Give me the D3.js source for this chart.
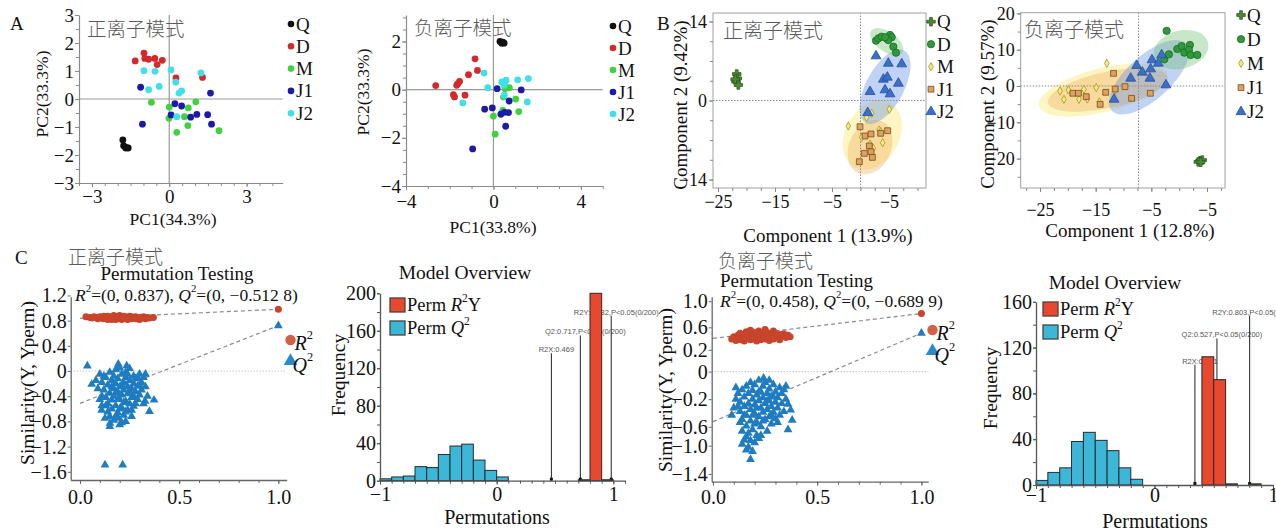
<!DOCTYPE html>
<html>
<head>
<meta charset="utf-8">
<script src="https://cdn.jsdelivr.net/npm/d3@7"></script>
<style>
  body { margin: 0; background: #fff; }
  svg { display: block; }
</style>
</head>
<body>
<div id="chart"></div>
<script>
// ---------- data ----------
const groups = ["Q", "D", "M", "J1", "J2"];

// A: PCA, positive mode
const pcaPosQ = [[-1.80,-1.46],[-1.77,-1.67],[-1.69,-1.75],[-1.59,-1.75],[-1.67,-1.73]];
const pcaPosD = [[-1.32,1.36],[-0.98,1.64],[-0.95,1.45],[-0.80,1.42],[-0.56,1.45],[-0.47,1.23],[-0.27,1.38],[0.26,0.75],[1.29,0.77]];
const pcaPosM = [[-0.69,-0.12],[0.0,-0.29],[-0.01,-0.69],[0.29,-1.19],[0.59,-0.63],[0.74,-0.32],[0.72,-0.95],[1.03,-0.10],[1.93,-1.13]];
const pcaPosJ1 = [[-1.11,0.42],[-1.04,-0.90],[0.22,-0.17],[0.07,-0.57],[0.48,-0.25],[0.83,-0.65],[1.07,-0.55],[1.49,-0.56],[1.60,0.21],[1.64,-0.90]];
const pcaPosJ2 = [[-0.98,1.01],[-0.55,0.99],[-0.80,0.33],[-0.39,0.45],[0.07,1.04],[0.25,0.60],[0.38,0.21],[0.48,0.29],[0.29,-0.63],[1.23,0.93]];
// A: PCA, negative mode
const pcaNegQ = [[0.30,2.0],[0.43,1.97],[0.38,1.93],[0.49,1.93]];
const pcaNegD = [[-2.64,0.17],[-1.68,0.18],[-1.55,0.34],[-1.63,0.25],[-1.83,-0.21],[-1.78,-0.30],[-1.30,-0.23],[-1.14,0.62],[-0.84,1.28],[-0.73,0.80]];
const pcaNegM = [[0,-1.10],[0.08,-1.85],[0.46,-0.30],[0.73,0.08],[1.02,-0.39],[1.16,-0.91],[0.43,-0.86],[0.53,0.04],[0.50,0.25]];
const pcaNegJ1 = [[-0.95,-2.46],[-0.40,-0.81],[-0.05,-0.76],[0.17,0.04],[0.34,-1.02],[0.50,-0.94],[0.69,-0.95],[0.56,-1.52],[0.72,-0.47],[1.27,-0.01]];
const pcaNegJ2 = [[-0.43,0.69],[-1.40,-0.55],[-0.26,0.08],[0.49,0.18],[0.58,0.39],[1.11,0.41],[1.60,0.46],[1.55,-0.51],[0.50,-0.23],[0.38,0.32]];

// B: PLS-DA, positive mode
const plsPosQ = [[-21.72,4.69],[-21.6,3.93],[-21.84,3.33],[-21.43,2.75],[-22.0,3.75]];
const plsPosD = [[2.72,10.6],[3.13,11.0],[3.71,11.3],[4.59,11.0],[5.18,11.6],[5.47,11.2],[4.88,10.7],[5.77,9.53],[6.23,8.47],[4.30,11.2]];
const plsPosM = [[1.96,-2.27],[1.08,-2.98],[5.06,-1.56],[-2.14,-4.52],[0.20,-6.52],[3.30,-5.23],[3.89,-7.47],[2.25,-8.47],[1.67,-7.71],[3.54,-5.53]];
const plsPosJ1 = [[-0.09,-4.64],[0.79,-6.29],[1.84,-5.93],[3.54,-5.81],[4.77,-5.35],[1.55,-8.06],[1.84,-9.07],[0.67,-9.36],[2.08,-10.07],[-0.21,-10.84]];
const plsPosJ2 = [[2.72,7.88],[4.88,6.58],[7.23,6.47],[4.01,3.75],[4.71,4.11],[6.64,3.04],[1.67,1.56],[4.30,1.86],[5.18,1.15],[1.26,-2.16]];
// confidence ellipses: [group, cx, cy, rx (x units), ry (y units), rotation deg]
const plsPosEllipses = [["M",2.07,-6.11,4.74,6.55,30],["J1",1.67,-8.29,3.68,5.05,25],["J2",4.30,2.44,3.33,7.26,28],["D",4.59,10.42,3.33,1.77,35]];

// B: PLS-DA, negative mode
const plsNegQ = [[3.73,-20.6],[4.14,-20.4],[3.43,-20.9],[3.85,-21.0]];
const plsNegD = [[-2.25,15.2],[-2.68,7.34],[-1.84,8.72],[-0.34,10.2],[0.44,11.0],[0.91,9.19],[1.93,11.3],[1.75,9.92],[2.05,8.54],[3.25,8.54]];
const plsNegM = [[-13.0,6.24],[-14.9,-0.46],[-17.1,-0.92],[-19.9,-1.1],[-21.4,-1.38],[-20.7,-3.67],[-18.0,-3.67],[-16.5,-3.58],[-14.35,-4.41],[-11.5,-1.1]];
const plsNegJ1 = [[-19.1,-2.0],[-18.1,-2.0],[-16.7,-2.94],[-14.2,-5.05],[-13.2,-1.74],[-11.8,3.49],[-11.5,-0.83],[-9.74,-0.18],[-8.54,-3.4],[-5.19,-2.0]];
const plsNegJ2 = [[-7.64,5.6],[-6.63,3.77],[-4.89,7.16],[-5.13,4.68],[-5.25,2.11],[-8.72,2.11],[-11.7,-3.67],[-3.15,8.54],[-3.75,6.24],[-2.38,0.28]];
const plsNegEllipses = [["M",-13.63,-1.10,11.86,6.06,-14],["J1",-12.84,-1.10,10.96,4.96,-12],["J2",-5.42,2.39,8.98,6.06,-42],["D",0.33,10.0,5.03,5.23,-15]];

// axis ticks
const pcaPosXTicks = [-3, 0, 3];
const pcaPosYTicks = [-3, -2, -1, 0, 1, 2, 3];
const pcaNegXTicks = [-4, 0, 4];
const pcaNegYTicks = [-4, -2, 0, 2];
const plsXTicks = [-25, -15, -5, 5];
const plsXLabels = ["−25", "−15", "−5", "−5"];
const plsPosYTicks = [-14, 0, 14];
const plsNegYTicks = [-20, -10, 0, 10, 20];

// C: permutation tests (x = correlation of Y with permuted Y)
const permPosR2 = [[0.03,0.86],[0.05,0.85],[0.06,0.84],[0.07,0.86],[0.08,0.85],[0.09,0.83],[0.10,0.86],[0.11,0.84],[0.12,0.87],[0.12,0.83],[0.13,0.85],[0.14,0.82],[0.14,0.87],[0.15,0.84],[0.16,0.86],[0.16,0.82],[0.17,0.88],[0.17,0.84],[0.18,0.85],[0.18,0.82],[0.19,0.87],[0.19,0.83],[0.20,0.85],[0.20,0.88],[0.21,0.82],[0.21,0.86],[0.22,0.84],[0.22,0.87],[0.23,0.83],[0.23,0.86],[0.24,0.85],[0.24,0.82],[0.25,0.87],[0.25,0.84],[0.26,0.86],[0.26,0.83],[0.27,0.85],[0.28,0.83],[0.28,0.86],[0.29,0.84],[0.30,0.85],[0.30,0.82],[0.31,0.84],[0.32,0.86],[0.33,0.83],[0.34,0.85],[0.35,0.84],[0.37,0.85],[1.0,0.98]];
const permPosQ2 = [[0.037,0.08],[0.059,-0.21],[0.193,0.11],[0.235,0.08],[0.328,-0.48],[0.373,-0.46],[0.35,-0.64],[0.109,-0.62],[0.126,-0.75],[0.151,-0.83],[0.21,-0.82],[0.193,-0.75],[0.126,-1.49],[0.215,-1.49],
  [0.10,-0.05],[0.11,-0.18],[0.12,-0.30],[0.13,-0.10],[0.13,-0.42],[0.14,-0.22],[0.14,-0.52],[0.15,-0.02],[0.15,-0.35],[0.16,-0.15],[0.16,-0.46],[0.16,-0.60],[0.17,-0.08],[0.17,-0.28],[0.17,-0.40],[0.18,-0.20],[0.18,-0.55],[0.18,0.02],[0.19,-0.33],[0.19,-0.12],[0.19,-0.66],[0.20,-0.25],[0.20,-0.45],[0.20,0.05],[0.21,-0.05],[0.21,-0.38],[0.21,-0.58],[0.22,-0.18],[0.22,-0.30],[0.22,-0.70],[0.23,-0.10],[0.23,-0.48],[0.23,-0.02],[0.24,-0.25],[0.24,-0.36],[0.24,-0.62],[0.25,-0.15],[0.25,-0.52],[0.25,0.04],[0.26,-0.28],[0.26,-0.42],[0.27,-0.08],[0.27,-0.20],[0.27,-0.56],[0.28,-0.33],[0.28,-0.12],[0.29,-0.45],[0.29,-0.24],[0.30,-0.05],[0.30,-0.38],[0.31,-0.18],[0.31,-0.30],[0.32,-0.10],[0.33,-0.25],[0.34,-0.40],[0.11,-0.40],[0.12,-0.08],[0.13,-0.55],[0.14,-0.65],[0.15,-0.72],[0.16,-0.25],[0.17,-0.78],[0.18,-0.35],[0.19,-0.45],[0.20,-0.60],[0.21,-0.22],[0.22,-0.50],[0.23,-0.65],[0.24,-0.05],[0.25,-0.32],[0.26,-0.62],[0.27,-0.40],[0.28,-0.52],[0.29,-0.10],[0.30,-0.22],[0.09,-0.28],[0.10,-0.45],[0.08,-0.15],[0.11,-0.55],[0.20,-0.85],[0.18,-0.72],[0.23,-0.80],[0.26,-0.72],[0.32,-0.52],[0.33,-0.05],[0.15,-0.88],[1.0,0.72]];
const permPosLines = {R2: [[0, 0.837], [1, 0.98]], Q2: [[0, -0.5128], [1, 0.72]]};
const permPosYTicks = [1.2, 0.8, 0.4, 0, -0.4, -0.8, -1.2, -1.6];
const permPosYLabels = ["1.2", "0.8", "0.4", "0", "−0.4", "−0.8", "−1.2", "−1.6"];

const permNegR2 = [[0.09,0.45],[0.10,0.48],[0.11,0.43],[0.12,0.50],[0.12,0.46],[0.13,0.53],[0.13,0.44],[0.14,0.48],[0.15,0.51],[0.15,0.42],[0.16,0.55],[0.16,0.46],[0.17,0.49],[0.17,0.52],[0.18,0.44],[0.18,0.57],[0.19,0.48],[0.19,0.51],[0.20,0.45],[0.20,0.54],[0.21,0.49],[0.21,0.42],[0.22,0.56],[0.22,0.47],[0.23,0.51],[0.23,0.44],[0.24,0.53],[0.24,0.48],[0.25,0.58],[0.25,0.45],[0.26,0.50],[0.26,0.54],[0.27,0.47],[0.27,0.43],[0.28,0.52],[0.28,0.49],[0.29,0.56],[0.29,0.45],[0.30,0.50],[0.30,0.53],[0.31,0.47],[0.32,0.51],[0.32,0.44],[0.33,0.49],[0.34,0.52],[0.35,0.47],[0.36,0.50],[0.37,0.48],[1.0,0.80]];
const permNegQ2 = [[0.243,-0.09],[0.11,-0.22],[0.09,-0.60],[0.373,-0.53],[0.38,-0.67],[0.36,-0.80],[0.18,-1.21],[0.14,-1.00],[0.17,-1.04],[0.20,-0.98],[0.15,-0.94],[0.22,-0.92],
  [0.12,-0.30],[0.13,-0.42],[0.13,-0.55],[0.14,-0.25],[0.14,-0.66],[0.15,-0.35],[0.15,-0.48],[0.16,-0.20],[0.16,-0.60],[0.16,-0.75],[0.17,-0.30],[0.17,-0.44],[0.17,-0.85],[0.18,-0.15],[0.18,-0.52],[0.18,-0.68],[0.19,-0.38],[0.19,-0.26],[0.19,-0.80],[0.20,-0.46],[0.20,-0.58],[0.20,-0.18],[0.21,-0.32],[0.21,-0.70],[0.21,-0.88],[0.22,-0.40],[0.22,-0.12],[0.22,-0.62],[0.23,-0.28],[0.23,-0.50],[0.23,-0.76],[0.24,-0.36],[0.24,-0.20],[0.24,-0.56],[0.25,-0.44],[0.25,-0.66],[0.25,-0.15],[0.26,-0.30],[0.26,-0.52],[0.26,-0.82],[0.27,-0.24],[0.27,-0.40],[0.27,-0.62],[0.28,-0.34],[0.28,-0.48],[0.28,-0.72],[0.29,-0.18],[0.29,-0.56],[0.30,-0.28],[0.30,-0.42],[0.30,-0.65],[0.31,-0.36],[0.31,-0.50],[0.32,-0.22],[0.32,-0.60],[0.33,-0.44],[0.33,-0.30],[0.34,-0.55],[0.35,-0.38],[0.35,-0.20],[0.13,-0.70],[0.14,-0.82],[0.15,-0.60],[0.16,-0.90],[0.18,-0.95],[0.19,-0.60],[0.20,-0.72],[0.21,-0.50],[0.22,-0.28],[0.23,-0.88],[0.24,-0.68],[0.26,-0.40],[0.27,-0.12],[0.28,-0.60],[0.29,-0.35],[0.31,-0.70],[0.12,-0.48],[0.11,-0.38],[0.10,-0.50],[0.34,-0.25],[0.36,-0.45],[0.19,-1.10],[0.16,-1.08],[1.0,0.53]];
const permNegLines = {R2: [[0, 0.458], [1, 0.80]], Q2: [[0, -0.6899], [1, 0.53]]};
// printed tick labels sit at these positions on the plot
const permNegYTicks = [0.97, 0.61, 0.30, 0, -0.38, -0.76, -1.02, -1.41];
const permNegYLabels = ["1.0", "0.6", "0.2", "0", "−0.2", "−0.6", "−1.0", "−1.4"];
const permXTicks = [0, 0.5, 1];
const permXLabels = ["0.0", "0.5", "1.0"];

// C: model overview histograms (bins of 0.1)
const histPosQ2 = [2, 4, 5, 15, 14, 28, 37, 39, 22, 11, 4];      // from -1.0
const histPosR2Y = [[0.7, 1], [0.8, 200], [0.9, 1]];
const histPosMarks = [["R2X:0.469", 0.469, 136], ["Q2:0.717,P<0.05(0/200)", 0.717, 155], ["R2Y:0.982,P<0.05(0/200)", 0.982, 176]];
const histNegQ2 = [4, 11, 15, 38, 46, 39, 30, 15, 5];              // from -1.0
const histNegR2Y = [[0.4, 112], [0.5, 92], [0.6, 1], [0.8, 1]];
const histNegMarks = [["R2X:0.341", 0.341, 105], ["Q2:0.527,P<0.05(0/200)", 0.527, 128], ["R2Y:0.803,P<0.05(0/200)", 0.803, 148]];
const histXTicks = [-1, 0, 1];
const histPosYTicks = [0, 40, 80, 120, 160, 200];
const histNegYTicks = [0, 40, 80, 120, 160];

// ---------- drawing ----------
const SERIF = '"Liberation Serif","Times New Roman",serif';
const CJK = '"Noto Sans CJK SC","Noto Sans CJK JP",sans-serif';
const fmt = d => (d < 0 ? "−" : "") + Math.abs(d);

const svg = d3.select("#chart").append("svg")
    .attr("width", 1276)
    .attr("height", 529)
    .attr("font-family", SERIF);

function txt(g, x, y, s, o = {}) {
    const t = g.append("text")
        .attr("x", x).attr("y", y)
        .attr("font-size", o.size || 18)
        .attr("font-family", o.cjk ? CJK : SERIF)
        .attr("fill", o.fill || (o.cjk ? "#5a5a5a" : "#111"))
        .attr("text-anchor", o.anchor || "start")
        .attr("dominant-baseline", "central")
        .text(s);
    if (o.cjk) t.attr("font-weight", 300);
    if (o.rotate) t.attr("transform", `rotate(-90,${x},${y})`);
    return t;
}

// parts: [text, style] where style is "", "i" (italic) or "sup"
function richTxt(g, x, y, parts, o = {}) {
    const size = o.size || 18;
    const t = g.append("text")
        .attr("x", x).attr("y", y)
        .attr("font-size", size)
        .attr("fill", "#111")
        .attr("text-anchor", o.anchor || "start")
        .attr("dominant-baseline", "central");
    let raised = false;
    parts.forEach(([s, st]) => {
        const sp = t.append("tspan").text(s);
        if (st === "i") sp.attr("font-style", "italic");
        if (st === "sup") {
            sp.attr("font-size", size * 0.62).attr("dy", -size * 0.38);
            raised = true;
        } else if (raised) {
            sp.attr("dy", size * 0.38);
            raised = false;
        }
    });
    return t;
}

function drawAxis(g, scale, side, pos, o) {
    const make = side === "bottom" ? d3.axisBottom : d3.axisLeft;
    const tr = side === "bottom" ? `translate(0,${pos})` : `translate(${pos},0)`;
    if (o.minor) {
        const [a, b] = scale.domain().slice().sort((p, q) => p - q);
        const vals = d3.range(Math.ceil(a / o.minor - 1e-6) * o.minor, b + 1e-6, o.minor);
        const mg = g.append("g").attr("transform", tr)
            .call(make(scale).tickValues(vals).tickSize(o.minorSize || 3).tickFormat(""));
        mg.select(".domain").remove();
        mg.selectAll("line").attr("stroke", o.color);
    }
    const ax = g.append("g").attr("transform", tr)
        .call(make(scale).tickValues(o.ticks).tickSize(o.size || 4).tickSizeOuter(0)
            .tickPadding(o.pad === undefined ? 3 : o.pad)
            .tickFormat((d, i) => o.labels ? o.labels[i] : fmt(d)));
    ax.select(".domain").attr("stroke", o.color).attr("stroke-width", o.width || 1);
    if (o.noDomain) ax.select(".domain").remove();
    ax.selectAll(".tick line").attr("stroke", o.color);
    ax.selectAll("text").attr("font-size", o.font).attr("font-family", SERIF).attr("fill", "#111");
}

// ---- A: PCA score plots ----
const pcaColors = ["#111111", "#d22a2a", "#3fd23f", "#1b1ba6", "#40e0ea"];

function drawPca(c) {
    const g = svg.append("g");
    const x = d3.scaleLinear().domain(c.xDomain).range(c.xRange);
    const y = d3.scaleLinear().domain(c.yDomain).range(c.yRange);

    g.append("line")
        .attr("x1", x(0)).attr("x2", x(0))
        .attr("y1", c.yRange[0]).attr("y2", c.yRange[1])
        .attr("stroke", "#999").attr("stroke-width", 1.2);
    g.append("line")
        .attr("x1", c.xRange[0]).attr("x2", c.xRange[1])
        .attr("y1", y(0)).attr("y2", y(0))
        .attr("stroke", "#999").attr("stroke-width", 1.2);

    drawAxis(g, x, "bottom", c.yRange[0], {ticks: c.xTicks, minor: c.xMinor, color: "#8a8a8a", font: 19, pad: c.xPad, width: 1.2});
    drawAxis(g, y, "left", c.xRange[0], {ticks: c.yTicks, minor: c.yMinor, color: "#8a8a8a", font: 19, pad: 1, width: 1.2});

    groups.forEach((k, gi) => {
        g.selectAll(null).data(c.data[k]).join("circle")
            .attr("cx", d => x(d[0]))
            .attr("cy", d => y(d[1]))
            .attr("r", 3.4)
            .attr("fill", pcaColors[gi]);
        const ly = c.legY + gi * c.legStep;
        g.append("circle").attr("cx", c.legX).attr("cy", ly).attr("r", 3.3).attr("fill", pcaColors[gi]);
        txt(g, c.legX + 5, ly, k, {size: 19});
    });

    txt(g, c.modeX, c.modeY, c.mode, {cjk: true, size: 19.5});
    txt(g, c.xTitle[1], c.xTitle[2], c.xTitle[0], {size: 17.5, anchor: "middle"});
    txt(g, c.yTitle[1], c.yTitle[2], c.yTitle[0], {size: 17.5, anchor: "middle", rotate: true});
}

drawPca({
    data: {Q: pcaPosQ, D: pcaPosD, M: pcaPosM, J1: pcaPosJ1, J2: pcaPosJ2},
    xDomain: [-3.5, 4.4], xRange: [79, 282.7], yDomain: [-3, 3], yRange: [183, 15],
    xTicks: pcaPosXTicks, yTicks: pcaPosYTicks, xMinor: 0.5, yMinor: 0.5, xPad: 3,
    legX: 291, legY: 24, legStep: 22.3,
    mode: "正离子模式", modeX: 87, modeY: 27,
    xTitle: ["PC1(34.3%)", 173, 219], yTitle: ["PC2(33.3%)", 42, 94]
});
drawPca({
    data: {Q: pcaNegQ, D: pcaNegD, M: pcaNegM, J1: pcaNegJ1, J2: pcaNegJ2},
    xDomain: [-4, 5], xRange: [406, 602.7], yDomain: [-4, 3.1], yRange: [186, 15],
    xTicks: pcaNegXTicks, yTicks: pcaNegYTicks, xMinor: 1, yMinor: 0.5, xPad: 5,
    legX: 613, legY: 26, legStep: 22,
    mode: "负离子模式", modeX: 414, modeY: 26,
    xTitle: ["PC1(33.8%)", 493, 227], yTitle: ["PC2(33.3%)", 363, 92]
});

// ---- B: PLS-DA score plots ----
const diamond = {
    draw(ctx, size) {
        const s = Math.sqrt(size) / 2;
        ctx.moveTo(0, -s * 1.5); ctx.lineTo(s * 0.85, 0);
        ctx.lineTo(0, s * 1.5); ctx.lineTo(-s * 0.85, 0); ctx.closePath();
    }
};
const plsStyle = {
    Q: {type: d3.symbolCross, size: 40, fill: "#4a8a34", stroke: "#2c5c1e"},
    D: {type: d3.symbolCircle, size: 42, fill: "#2f9a3c", stroke: "#1f6a28"},
    M: {type: diamond, size: 30, fill: "#f2ec80", stroke: "#a49525"},
    J1: {type: d3.symbolSquare, size: 34, fill: "#dca25f", stroke: "#7a4a1c"},
    J2: {type: d3.symbolTriangle, size: 42, fill: "#3b6fcb", stroke: "#244f9c"}
};
const ellipseFill = {D: "rgba(110,190,110,0.38)", J2: "rgba(105,150,230,0.42)", M: "rgba(250,228,95,0.38)", J1: "rgba(238,172,92,0.36)"};

function drawPls(c) {
    const g = svg.append("g");
    const x = d3.scaleLinear().domain(c.xDomain).range(c.xRange);
    const y = d3.scaleLinear().domain(c.yDomain).range(c.yRange);
    const kx = Math.abs(x(1) - x(0)), ky = Math.abs(y(1) - y(0));

    g.selectAll(null).data(c.ellipses).join("ellipse")
        .attr("transform", d => `translate(${x(d[1])},${y(d[2])}) rotate(${d[5]})`)
        .attr("rx", d => d[3] * kx)
        .attr("ry", d => d[4] * ky)
        .attr("fill", d => ellipseFill[d[0]]);

    g.append("line")
        .attr("x1", x(c.refX)).attr("x2", x(c.refX))
        .attr("y1", c.yRange[0]).attr("y2", c.yRange[1])
        .attr("stroke", "#8a8a8a").attr("stroke-dasharray", "1.5,1.5");
    g.append("line")
        .attr("x1", c.xRange[0]).attr("x2", c.xRange[1])
        .attr("y1", y(0)).attr("y2", y(0))
        .attr("stroke", "#8a8a8a").attr("stroke-dasharray", "1.5,1.5");

    g.append("rect")
        .attr("x", c.xRange[0]).attr("y", c.yRange[1])
        .attr("width", c.xRange[1] - c.xRange[0]).attr("height", c.yRange[0] - c.yRange[1])
        .attr("fill", "none").attr("stroke", "#a0a0a0");

    drawAxis(g, x, "bottom", c.yRange[0], {ticks: plsXTicks, labels: plsXLabels, minor: 2.5, color: "#888", font: 18, pad: c.xPad, noDomain: true});
    drawAxis(g, y, "left", c.xRange[0], {ticks: c.yTicks, minor: c.yMinor, color: "#888", font: 18, pad: 2, noDomain: true});

    groups.forEach((k, gi) => {
        const st = plsStyle[k];
        const sym = d3.symbol().type(st.type).size(st.size);
        g.selectAll(null).data(c.data[k]).join("path")
            .attr("d", sym)
            .attr("transform", d => `translate(${x(d[0])},${y(d[1])})`)
            .attr("fill", st.fill).attr("stroke", st.stroke).attr("stroke-width", 0.8);
        const ly = c.legY + gi * c.legStep;
        g.append("path").attr("d", sym)
            .attr("transform", `translate(${c.legX},${ly})`)
            .attr("fill", st.fill).attr("stroke", st.stroke).attr("stroke-width", 0.8);
        txt(g, c.legX + 6, ly, k, {size: 19});
    });

    txt(g, c.modeX, c.modeY, c.mode, {cjk: true, size: 20});
    txt(g, c.xTitle[1], c.xTitle[2], c.xTitle[0], {size: 19, anchor: "middle"});
    txt(g, c.yTitle[1], c.yTitle[2], c.yTitle[0], {size: 19, anchor: "middle", rotate: true});
}

drawPls({
    data: {Q: plsPosQ, D: plsPosD, M: plsPosM, J1: plsPosJ1, J2: plsPosJ2},
    ellipses: plsPosEllipses,
    xDomain: [-25.88, 11.49], xRange: [713, 926], yDomain: [-15.5, 15.5], yRange: [188, 13],
    yTicks: plsPosYTicks, yMinor: 3.5, refX: 0, xPad: 3,
    legX: 931, legY: 21.7, legStep: 22.5,
    mode: "正离子模式", modeX: 723, modeY: 29,
    xTitle: ["Component 1 (13.9%)", 828, 235], yTitle: ["Component 2 (9.42%)", 680, 105]
});
drawPls({
    data: {Q: plsNegQ, D: plsNegD, M: plsNegM, J1: plsNegJ1, J2: plsNegJ2},
    ellipses: plsNegEllipses,
    xDomain: [-28.47, 8.23], xRange: [1020.7, 1225], yDomain: [-28.1, 20.19], yRange: [188, 12.7],
    yTicks: plsNegYTicks, yMinor: 5, refX: -7.3, xPad: 11,
    legX: 1241, legY: 15, legStep: 24.2,
    mode: "负离子模式", modeX: 1024, modeY: 28,
    xTitle: ["Component 1 (12.8%)", 1130, 230], yTitle: ["Component 2 (9.57%)", 987, 104]
});

// ---- C: permutation plots ----
function drawPerm(c) {
    const g = svg.append("g");
    const x = d3.scaleLinear().domain(c.xDomain).range(c.xRange);
    const y = d3.scaleLinear().domain(c.yDomain).range(c.yRange);

    g.append("line")
        .attr("x1", c.xRange[0]).attr("x2", c.xRange[1])
        .attr("y1", y(0)).attr("y2", y(0))
        .attr("stroke", "#aaa").attr("stroke-dasharray", "1,2");

    const line = d3.line().x(d => x(d[0])).y(d => y(d[1]));
    ["R2", "Q2"].forEach(k => {
        g.append("path").attr("d", line(c.lines[k]))
            .attr("fill", "none").attr("stroke", "#8a8a8a")
            .attr("stroke-width", 1.2).attr("stroke-dasharray", "4,3");
    });

    const tri = d3.symbol().type(d3.symbolTriangle).size(34);
    g.selectAll(null).data(c.q2).join("path")
        .attr("d", tri)
        .attr("transform", d => `translate(${x(d[0])},${y(d[1])})`)
        .attr("fill", "#1f7cc1");
    g.selectAll(null).data(c.r2).join("circle")
        .attr("cx", d => x(d[0])).attr("cy", d => y(d[1]))
        .attr("r", 3.5).attr("fill", "#c8442c");

    drawAxis(g, x, "bottom", c.yRange[0], {ticks: permXTicks, labels: permXLabels, minor: 0.1, color: "#666", font: 20, pad: c.xPad, width: 1.3});
    drawAxis(g, y, "left", c.xRange[0], {ticks: c.yTicks, labels: c.yLabels, color: "#666", font: 20, pad: 1, size: 3, width: 1.3});

    // legend
    g.append("circle").attr("cx", c.legX).attr("cy", c.legY).attr("r", 5.2).attr("fill", "#d0604b");
    g.append("path").attr("d", d3.symbol().type(d3.symbolTriangle).size(80))
        .attr("transform", `translate(${c.legX},${c.legY + 21})`).attr("fill", "#2a88cc");
    richTxt(g, c.legX + 4, c.legY + 3, [["R", "i"], ["2", "sup"]], {size: 20});
    richTxt(g, c.legX + 2, c.legY + 25, [["Q", "i"], ["2", "sup"]], {size: 20});

    txt(g, c.modeX, c.modeY, c.mode, {cjk: true, size: 19});
    txt(g, c.ptX, c.ptY, "Permutation Testing", {size: 19, anchor: c.ptAnchor});
    richTxt(g, c.statX, c.statY, [["R", "i"], ["2", "sup"], [`=(0, ${c.stat[0]}), `, ""], ["Q", "i"], ["2", "sup"], [`=(0, ${c.stat[1]})`, ""]], {size: 17.5});
    txt(g, c.yTitleX, c.yTitleY, "Similarity(Y, Yperm)", {size: 19.5, anchor: "middle", rotate: true});
}

drawPerm({
    r2: permPosR2, q2: permPosQ2, lines: permPosLines,
    xDomain: [-0.047, 1.042], xRange: [70.7, 286.7], yDomain: [-1.73, 1.18], yRange: [480, 296.7],
    yTicks: permPosYTicks, yLabels: permPosYLabels, xPad: 6,
    legX: 290.5, legY: 340,
    mode: "正离子模式", modeX: 68, modeY: 255,
    ptX: 177, ptY: 273.5, ptAnchor: "middle",
    stat: ["0.837", "−0.512 8"], statX: 75, statY: 295,
    yTitleX: 27, yTitleY: 383
});
drawPerm({
    r2: permNegR2, q2: permNegQ2, lines: permNegLines,
    xDomain: [-0.006, 1.033], xRange: [711.7, 928.3], yDomain: [-1.517, 1.032], yRange: [481.7, 296.7],
    yTicks: permNegYTicks, yLabels: permNegYLabels, xPad: 4,
    legX: 932.5, legY: 330,
    mode: "负离子模式", modeX: 718, modeY: 259,
    ptX: 720, ptY: 280, ptAnchor: "start",
    stat: ["0.458", "−0.689 9"], statX: 720, statY: 301,
    yTitleX: 665, yTitleY: 390
});

// ---- C: model overview histograms ----
function drawHist(c) {
    const g = svg.append("g");
    const x = d3.scaleLinear().domain(c.xDomain).range(c.xRange);
    const y = d3.scaleLinear().domain(c.yDomain).range(c.yRange);
    const q2Bins = c.q2.map((v, i) => [-1 + i * 0.1, v]);

    g.selectAll(null).data(q2Bins).join("rect")
        .attr("x", d => x(d[0])).attr("width", x(0.1) - x(0))
        .attr("y", d => y(d[1])).attr("height", d => y(0) - y(d[1]))
        .attr("fill", "#3db7d8").attr("stroke", "#2a2a2a").attr("stroke-width", 1);

    // vertical markers drawn under the red bars
    c.marks.forEach(([label, v, h]) => {
        g.append("line")
            .attr("x1", x(v)).attr("x2", x(v)).attr("y1", y(0)).attr("y2", y(h))
            .attr("stroke", "#222").attr("stroke-width", 1);
        g.append("rect").attr("x", x(v) - 1.5).attr("y", y(0) - 3).attr("width", 3).attr("height", 3).attr("fill", "#111");
        g.append("text")
            .attr("x", x(v) + 5).attr("y", y(h) - 1)
            .attr("text-anchor", "middle")
            .attr("font-family", '"Liberation Sans",Arial,sans-serif')
            .attr("font-size", 7.5).attr("fill", "#555")
            .text(label);
    });

    g.selectAll(null).data(c.r2y).join("rect")
        .attr("x", d => x(d[0])).attr("width", x(0.1) - x(0))
        .attr("y", d => y(d[1])).attr("height", d => y(0) - y(d[1]))
        .attr("fill", "#e8482e").attr("stroke", "#2a2a2a").attr("stroke-width", 1);

    drawAxis(g, x, "bottom", c.yRange[0], {ticks: histXTicks, minor: 0.1, color: "#555", font: 20, pad: c.xPad, width: 1.3});
    drawAxis(g, y, "left", c.xRange[0], {ticks: c.yTicks, minor: 20, color: "#555", font: 20, pad: 1, size: 3, width: 1.3});

    // legend
    g.append("rect").attr("x", c.legX).attr("y", c.legY).attr("width", 15).attr("height", 14)
        .attr("fill", "#e8482e").attr("stroke", "#444").attr("stroke-width", 1.3);
    g.append("rect").attr("x", c.legX).attr("y", c.legY + 23).attr("width", 15).attr("height", 14)
        .attr("fill", "#3db7d8").attr("stroke", "#444").attr("stroke-width", 1.3);
    richTxt(g, c.legX + 17, c.legY + 7, [["Perm ", ""], ["R", "i"], ["2", "sup"], ["Y", ""]], {size: 18.5});
    richTxt(g, c.legX + 17, c.legY + 30, [["Perm ", ""], ["Q", "i"], ["2", "sup"]], {size: 18.5});

    txt(g, c.titleX, c.titleY, "Model Overview", {size: 19.5, anchor: "middle"});
    txt(g, c.yTitleX, c.yTitleY, "Frequency", {size: 19.5, anchor: "middle", rotate: true});
    txt(g, c.xTitleX, c.xTitleY, "Permutations", {size: 20, anchor: "middle"});
}

drawHist({
    q2: histPosQ2, r2y: histPosR2Y, marks: histPosMarks,
    xDomain: [-1, 1.1], xRange: [380, 625], yDomain: [0, 200], yRange: [480.7, 293.3],
    yTicks: histPosYTicks, xPad: 2,
    legX: 390, legY: 298,
    titleX: 465, titleY: 272, yTitleX: 338, yTitleY: 375, xTitleX: 497, xTitleY: 517
});
drawHist({
    q2: histNegQ2, r2y: histNegR2Y, marks: histNegMarks,
    xDomain: [-1, 1], xRange: [1036, 1273], yDomain: [0, 160], yRange: [485, 301.8],
    yTicks: histNegYTicks, xPad: -1,
    legX: 1043, legY: 302,
    titleX: 1115, titleY: 282, yTitleX: 990, yTitleY: 388, xTitleX: 1155, xTitleY: 521
});

// panel letters
txt(svg, 10, 23, "A", {size: 19});
txt(svg, 657, 23, "B", {size: 19});
txt(svg, 15, 257, "C", {size: 19});
</script>
</body>
</html>
